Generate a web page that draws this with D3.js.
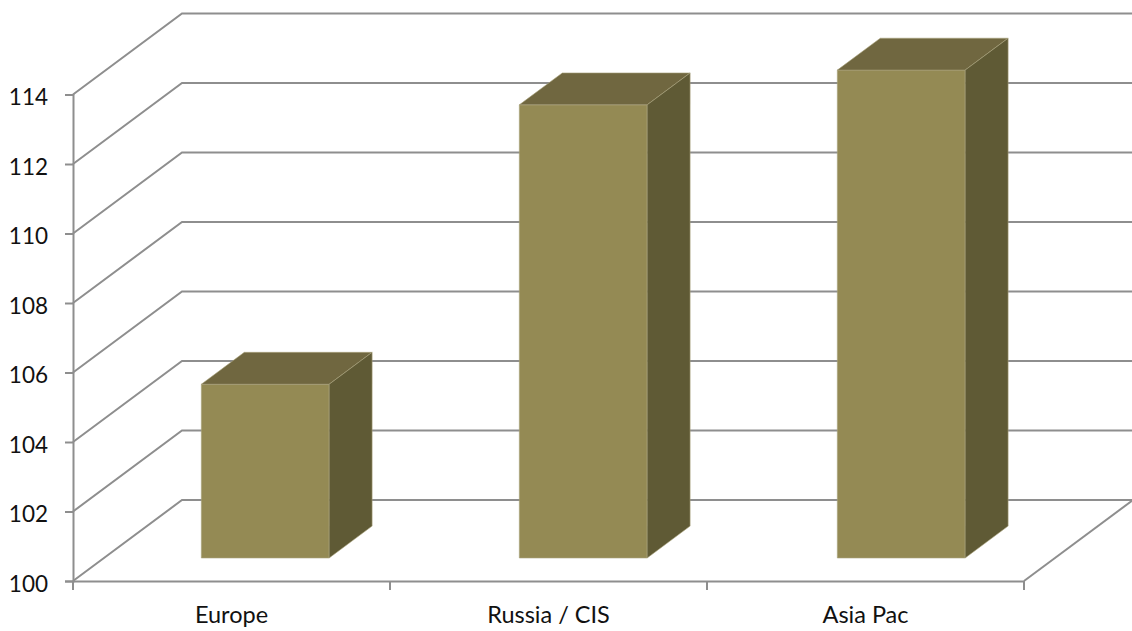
<!DOCTYPE html>
<html>
<head>
<meta charset="utf-8">
<script src="https://cdn.jsdelivr.net/npm/d3@7/dist/d3.min.js"></script>
<style>
  html, body { margin: 0; padding: 0; background: #fff; }
  svg { display: block; }
  text { font-family: Lato, "Open Sans", sans-serif; fill: #111; }
</style>
</head>
<body>
<svg id="chart" width="1132" height="631"></svg>
<script>
// Regional index, drawn as 3-D columns on an oblique floor
const categories = ["Europe", "Russia / CIS", "Asia Pac"];
const values = [105, 113.04, 114.04];
const valueTicks = [100, 102, 104, 106, 108, 110, 112, 114];

const colours = { front: "#948a54", top: "#706740", side: "#5f5a35", edge: "#a9a27c", grid: "#8e8e8e" };

const svg = d3.select("#chart");

// Front plane of the plot: one slot per category for the labels,
// and a narrower band inside each slot for the column
const slots = d3.scaleBand().domain(categories).range([73, 1024]);
const x = d3.scaleBand().domain(categories).range([73, 1027]).paddingInner(0.598).paddingOuter(0.299).align(0.512);
const y = d3.scaleLinear().domain([100, 114]).range([581, 94.5]);

// Oblique projection: depth 0 is the front plane, depth 1 the back wall
const depthX = d3.scaleLinear().domain([0, 1]).range([0, 109]);
const depthY = d3.scaleLinear().domain([0, 1]).range([0, -81]);
const project = (px, py, d) => [px + depthX(d), py + depthY(d)];
const poly = pts => "M" + pts.map(p => p.join(",")).join("L") + "Z";

// Column sits between these two depths on the floor
const barDepth = [0.284, 0.678];

// Walls: one bent line per tick, running from the axis to the back wall
const [x0, x1] = slots.range();
const grid = svg.append("g").attr("fill", "none").attr("stroke", colours.grid).attr("stroke-width", 2);
valueTicks.forEach(t => {
  const front = [x0, y(t)];
  const back = project(x0, y(t), 1);
  const end = [x1 + depthX(1), back[1]];
  grid.append("path").attr("d", d3.line()([front, back, end]));
});
// Right edge of the floor
grid.append("path").attr("d", d3.line()([[x1, y(100)], project(x1, y(100), 1)]));

// Axes
const axisLeft = d3.axisLeft(y).tickValues(valueTicks).tickSize(8).tickPadding(17).tickFormat(d3.format("d"));
const gy = svg.append("g").attr("transform", `translate(${x0},0)`).call(axisLeft);

const axisBottom = d3.axisBottom(slots).tickSize(0).tickPadding(25.5);
const gx = svg.append("g").attr("transform", `translate(0,${y(100)})`).call(axisBottom);

// Category separators on the floor's front edge
const step = slots.step();
gx.selectAll("line.sep").data(d3.range(categories.length + 1)).enter().append("line")
  .attr("class", "sep")
  .attr("x1", i => x0 + i * step).attr("x2", i => x0 + i * step)
  .attr("y1", 0).attr("y2", 9);

svg.selectAll(".domain, .tick line, line.sep").attr("stroke", colours.grid).attr("stroke-width", 2);
gy.selectAll("text").attr("font-size", 22.5).attr("font-family", "Lato").attr("dy", "0.45em");
gx.selectAll("text").attr("font-size", 23.5).attr("font-family", "Lato");

// Columns
const bars = svg.append("g").selectAll("g").data(categories).enter().append("g");
bars.each(function (c, i) {
  const g = d3.select(this);
  const [d0, d1] = barDepth;
  const left = x(c), right = x(c) + x.bandwidth();
  const top = y(values[i]), base = y(100);
  const A = project(left, top, d0), B = project(right, top, d0);
  const C = project(right, base, d0), D = project(left, base, d0);
  const E = project(left, top, d1), F = project(right, top, d1), G = project(right, base, d1);
  g.append("path").attr("d", poly([A, B, C, D])).attr("fill", colours.front);
  g.append("path").attr("d", poly([A, E, F, B])).attr("fill", colours.top);
  g.append("path").attr("d", poly([B, F, G, C])).attr("fill", colours.side);
  g.selectAll("path").attr("stroke", colours.edge).attr("stroke-width", 0.6).attr("stroke-linejoin", "round");
});
</script>
</body>
</html>
